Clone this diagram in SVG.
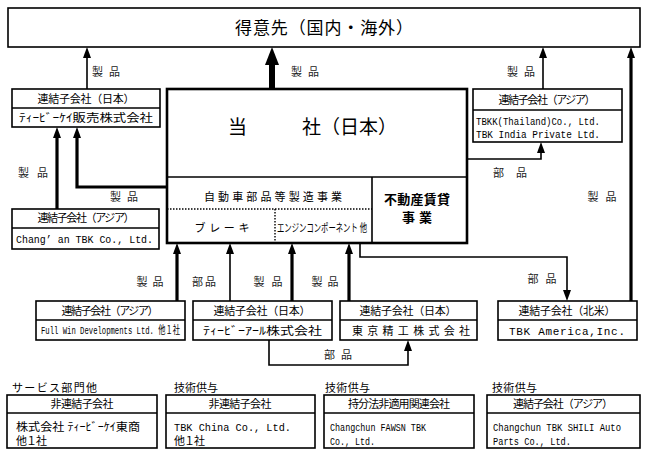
<svg xmlns="http://www.w3.org/2000/svg" width="648" height="456" viewBox="0 0 648 456">
<defs>
<style>
.bx{fill:#fff;stroke:#000;stroke-width:1.6}
.in{fill:none;stroke:#000;stroke-width:1.6}
.dt{fill:none;stroke:#000;stroke-width:1.4;stroke-dasharray:1.5 1.5}
.tn{fill:none;stroke:#000;stroke-width:1.6}
.tk{fill:none;stroke:#000;stroke-width:3.2}
.t{font-family:"Liberation Serif","Noto Sans CJK JP",serif;font-size:11px;fill:#000}
.m{font-family:"Liberation Mono","Noto Sans CJK JP",monospace;font-size:11px;fill:#000}
.g{font-family:"Noto Sans CJK JP",sans-serif;fill:#000}
.lb{font-family:"Noto Sans CJK JP",sans-serif;font-size:11px;fill:#222;text-anchor:middle}
.c{text-anchor:middle}
</style>
<marker id="ah" viewBox="0 0 11 8" refX="3" refY="4" markerWidth="11" markerHeight="8" markerUnits="userSpaceOnUse" orient="auto"><path d="M0,0 L11,4 L0,8 z" fill="#000"/></marker>
<marker id="ahb" viewBox="0 0 18 14" refX="4" refY="7" markerWidth="18" markerHeight="14" markerUnits="userSpaceOnUse" orient="auto"><path d="M0,0 L18,7 L0,14 z" fill="#000"/></marker>
</defs>
<rect width="648" height="456" fill="#fff"/>

<g id="connectors">
<path class="tn" d="M87,89 V55" stroke-width="2.2" marker-end="url(#ah)"/>
<path d="M272,89 V61" fill="none" stroke="#000" stroke-width="6" marker-end="url(#ahb)"/>
<path class="tn" d="M543,89 V55" stroke-width="2.2" marker-end="url(#ah)"/>
<path class="tk" d="M631,301 V55" marker-end="url(#ah)"/>
<path class="tk" d="M57,209 V135" marker-end="url(#ah)"/>
<path class="tk" d="M167,187 H77 V135" marker-end="url(#ah)"/>
<path class="tn" d="M345,177 V159 H541 V150" marker-end="url(#ah)"/>
<path class="tn" d="M360,243 V257 H567 V293" marker-end="url(#ah)"/>
<path class="tk" d="M177,301 V251" marker-end="url(#ah)"/>
<path class="tn" d="M230,301 V251" marker-end="url(#ah)"/>
<path class="tk" d="M292,301 V251" marker-end="url(#ah)"/>
<path class="tk" d="M349,301 V251" marker-end="url(#ah)"/>
<path class="tn" d="M269,340 V365 H408 V348" stroke-width="2" marker-end="url(#ah)"/>
<text class="lb" x="106" y="76" textLength="28" lengthAdjust="spacing">製 品</text>
<text class="lb" x="305" y="76" textLength="28" lengthAdjust="spacing">製 品</text>
<text class="lb" x="521" y="76" textLength="28" lengthAdjust="spacing">製 品</text>
<text class="lb" x="33" y="177" textLength="30" lengthAdjust="spacing">製 品</text>
<text class="lb" x="124" y="201" textLength="28" lengthAdjust="spacing">製 品</text>
<text class="lb" x="510" y="177" textLength="34" lengthAdjust="spacing">部 品</text>
<text class="lb" x="602" y="201" textLength="29" lengthAdjust="spacing">製 品</text>
<text class="lb" x="150" y="286" textLength="27" lengthAdjust="spacing">製 品</text>
<text class="lb" x="204" y="286" textLength="24" lengthAdjust="spacing">部 品</text>
<text class="lb" x="268" y="286" textLength="29" lengthAdjust="spacing">製 品</text>
<text class="lb" x="325" y="286" textLength="27" lengthAdjust="spacing">製 品</text>
<text class="lb" x="542" y="283" textLength="29" lengthAdjust="spacing">部 品</text>
<text class="lb" x="338" y="359" textLength="28" lengthAdjust="spacing">部 品</text>
</g>

<g id="customers">
<rect class="bx" x="8" y="8" width="632" height="39"/>
<text class="g c" x="324" y="34" font-size="17" textLength="178">得意先（国内・海外）</text>
</g>

<g id="tbk-sales">
<rect class="bx" x="12" y="89" width="148" height="38"/>
<line class="in" x1="12" y1="108" x2="160" y2="108"/>
<text class="t c" x="86" y="103" textLength="97">連結子会社（日本）</text>
<text class="t" x="19" y="122" textLength="134" lengthAdjust="spacingAndGlyphs">ﾃｨｰﾋﾞｰｹｲ販売株式会社</text>
</g>

<g id="tbk-japan">
<rect x="167" y="89" width="300" height="154" fill="#fff" stroke="#000" stroke-width="2.6"/>
<line class="in" x1="167" y1="177" x2="467" y2="177"/>
<line class="in" x1="372" y1="177" x2="372" y2="243"/>
<line class="dt" x1="167" y1="209" x2="372" y2="209"/>
<line class="dt" x1="275" y1="209" x2="275" y2="243"/>
<text class="g" x="228" y="134" font-size="19">当</text>
<text class="g" x="302" y="134" font-size="19" textLength="95">社（日本）</text>
<text class="t c" x="273" y="201" font-size="13.5" fill="#222" textLength="138">自動車部品等製造事業</text>
<text class="t c" x="222" y="232" font-size="13.5" textLength="55" lengthAdjust="spacing">ブレーキ</text>
<text class="t" x="277" y="232" font-size="9" textLength="90" lengthAdjust="spacingAndGlyphs">エンジンコンポーネント 他</text>
<text class="g c" x="417" y="204" font-size="13" font-weight="bold" textLength="66">不動産賃貸</text>
<text class="g c" x="417" y="222" font-size="13" font-weight="bold" textLength="30">事業</text>
</g>

<g id="asia-top">
<rect class="bx" x="473" y="89" width="149" height="53"/>
<line class="in" x1="473" y1="110" x2="622" y2="110"/>
<text class="t c" x="547" y="104" textLength="97">連結子会社（アジア）</text>
<text class="m" x="476" y="125" textLength="124" lengthAdjust="spacingAndGlyphs">TBKK(Thailand)Co., Ltd.</text>
<text class="m" x="476" y="138" textLength="124" lengthAdjust="spacingAndGlyphs">TBK India Private Ltd.</text>
</g>

<g id="changan">
<rect class="bx" x="12" y="209" width="147" height="40"/>
<line class="in" x1="12" y1="228" x2="159" y2="228"/>
<text class="t c" x="86" y="222" textLength="97">連結子会社（アジア）</text>
<text class="m" x="16" y="243" textLength="137" lengthAdjust="spacingAndGlyphs">Chang’ an TBK Co., Ltd.</text>
</g>

<g id="fullwin">
<rect class="bx" x="36" y="301" width="149" height="39"/>
<line class="in" x1="36" y1="320" x2="185" y2="320"/>
<text class="t c" x="110" y="315" textLength="97">連結子会社（アジア）</text>
<text class="m" x="41" y="334" font-size="9" fill="#333" textLength="139" lengthAdjust="spacingAndGlyphs">Full Win Developments Ltd. 他１社</text>
</g>

<g id="tbr">
<rect class="bx" x="193" y="301" width="139" height="39"/>
<line class="in" x1="193" y1="320" x2="332" y2="320"/>
<text class="t c" x="262" y="315" textLength="97">連結子会社（日本）</text>
<text class="t" x="203" y="335" font-size="11.5" textLength="119" lengthAdjust="spacingAndGlyphs">ﾃｨｰﾋﾞｰｱｰﾙ株式会社</text>
</g>

<g id="tokyo-seiko">
<rect class="bx" x="340" y="301" width="137" height="39"/>
<line class="in" x1="340" y1="320" x2="477" y2="320"/>
<text class="t c" x="408" y="315" textLength="97">連結子会社（日本）</text>
<text class="t" x="352" y="335" font-size="12" textLength="118" lengthAdjust="spacing">東京精工株式会社</text>
</g>

<g id="tbk-america">
<rect class="bx" x="498" y="301" width="139" height="39"/>
<line class="in" x1="498" y1="320" x2="637" y2="320"/>
<text class="t c" x="567" y="315" textLength="97">連結子会社（北米）</text>
<text class="m" x="509" y="335" font-size="12" textLength="116" lengthAdjust="spacing">TBK America,Inc.</text>
</g>

<g id="service">
<text class="t" x="12" y="392" font-size="12" textLength="85">サービス部門他</text>
<rect class="bx" x="7" y="395" width="150" height="53"/>
<line class="in" x1="7" y1="413" x2="157" y2="413"/>
<text class="t c" x="82" y="408" textLength="63">非連結子会社</text>
<text class="t" x="16" y="431" font-size="12" textLength="124" lengthAdjust="spacingAndGlyphs">株式会社 ﾃｨｰﾋﾞｰｹｲ東商</text>
<text class="t" x="16" y="445" font-size="12" textLength="31">他１社</text>
</g>

<g id="tbk-china">
<text class="t" x="174" y="392" font-size="12" textLength="44">技術供与</text>
<rect class="bx" x="166" y="395" width="149" height="53"/>
<line class="in" x1="166" y1="413" x2="315" y2="413"/>
<text class="t c" x="240" y="408" textLength="63">非連結子会社</text>
<text class="m" x="174" y="431" textLength="117" lengthAdjust="spacingAndGlyphs">TBK China Co., Ltd.</text>
<text class="t" x="174" y="445" font-size="12" textLength="31">他１社</text>
</g>

<g id="fawsn">
<text class="t" x="325" y="392" font-size="12" textLength="45">技術供与</text>
<rect class="bx" x="324" y="395" width="150" height="53"/>
<line class="in" x1="324" y1="413" x2="474" y2="413"/>
<text class="t c" x="399" y="408" textLength="102">持分法非適用関連会社</text>
<text class="m" x="330" y="431" textLength="96" lengthAdjust="spacingAndGlyphs">Changchun FAWSN TBK</text>
<text class="m" x="330" y="445" textLength="45" lengthAdjust="spacingAndGlyphs">Co., Ltd.</text>
</g>

<g id="shili">
<text class="t" x="492" y="392" font-size="12" textLength="45">技術供与</text>
<rect class="bx" x="487" y="395" width="153" height="53"/>
<line class="in" x1="487" y1="413" x2="640" y2="413"/>
<text class="t c" x="563" y="408" textLength="100">連結子会社（アジア）</text>
<text class="m" x="493" y="431" textLength="128" lengthAdjust="spacingAndGlyphs">Changchun TBK SHILI Auto</text>
<text class="m" x="493" y="445" textLength="78" lengthAdjust="spacingAndGlyphs">Parts Co., Ltd.</text>
</g>
</svg>
